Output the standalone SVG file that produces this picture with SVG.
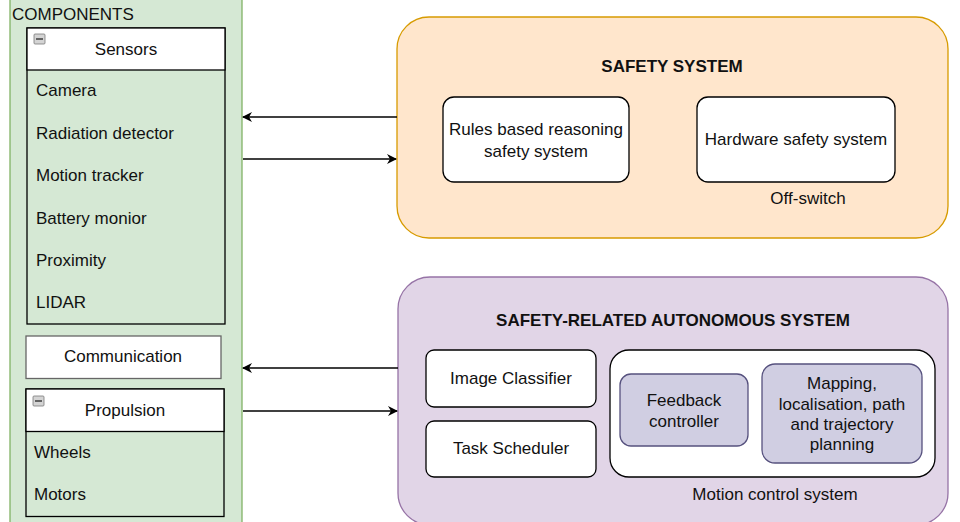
<svg xmlns="http://www.w3.org/2000/svg" width="960" height="522" viewBox="0 0 960 522">
<defs>
<style>
text{font-family:"Liberation Sans",Arial,Helvetica,sans-serif;font-size:17px;fill:#111}
.c{text-anchor:middle}
.b{font-weight:bold}
.box{fill:#fff;stroke:#000;stroke-width:1.3}
.lst{fill:#d5e8d4;stroke:#000;stroke-width:1.3}
.pur{fill:#d0cee2;stroke:#56517e;stroke-width:1.3}
.ln{fill:none;stroke:#000;stroke-width:1.4}
.ico{fill:#d4d4d4;stroke:#7a7a7a;stroke-width:0.8}
</style>
<marker id="ah" viewBox="0 0 10 10" refX="9" refY="5" markerWidth="10" markerHeight="10" markerUnits="userSpaceOnUse" orient="auto">
<path d="M0,0 L10,5 L0,10 L3,5 Z" fill="#000"/>
</marker>
</defs>

<g id="components">
<rect x="10" y="-10" width="232" height="545" fill="#d5e8d4" stroke="#82b366" stroke-width="1.3"/>
<text x="12" y="20">COMPONENTS</text>
</g>

<g id="sensors">
<rect class="lst" x="27" y="28" width="198" height="296"/>
<rect x="27" y="28" width="198" height="42" fill="#fff" stroke="#000" stroke-width="1.3"/>
<rect class="ico" x="34" y="34" width="11" height="10" rx="1"/>
<line x1="36" y1="39" x2="43" y2="39" stroke="#333" stroke-width="1.4"/>
<text class="c" x="126" y="55">Sensors</text>
<text x="36" y="96">Camera</text>
<text x="36" y="139">Radiation detector</text>
<text x="36" y="181">Motion tracker</text>
<text x="36" y="224">Battery monior</text>
<text x="36" y="266">Proximity</text>
<text x="36" y="308">LIDAR</text>
</g>

<g id="communication">
<rect x="26" y="336" width="195" height="42.5" fill="#fff" stroke="#666" stroke-width="1.3"/>
<text class="c" x="123" y="362">Communication</text>
</g>

<g id="propulsion">
<rect class="lst" x="26" y="389" width="198" height="127.5"/>
<rect x="26" y="389" width="198" height="42.5" fill="#fff" stroke="#000" stroke-width="1.3"/>
<rect class="ico" x="33" y="396" width="11" height="10" rx="1"/>
<line x1="35" y1="401" x2="42" y2="401" stroke="#333" stroke-width="1.4"/>
<text class="c" x="125" y="416">Propulsion</text>
<text x="34" y="458">Wheels</text>
<text x="34" y="500">Motors</text>
</g>

<g id="safety-system">
<rect x="397" y="17" width="551" height="221" rx="32" fill="#ffe6cc" stroke="#d79b00" stroke-width="1.3"/>
<text class="c b" x="672" y="72">SAFETY SYSTEM</text>
</g>

<g id="rules-based">
<rect class="box" x="443" y="97" width="186" height="85" rx="11"/>
<text class="c" x="536" y="135">Rules based reasoning</text>
<text class="c" x="536" y="157">safety system</text>
</g>

<g id="hardware-safety">
<rect class="box" x="697" y="97" width="198" height="85" rx="11"/>
<text class="c" x="796" y="145">Hardware safety system</text>
<text class="c" x="808" y="204">Off-switch</text>
</g>

<g id="autonomous-system">
<rect x="398" y="277" width="550" height="248" rx="32" fill="#e1d5e7" stroke="#9673a6" stroke-width="1.3"/>
<text class="c b" x="673" y="326">SAFETY-RELATED AUTONOMOUS SYSTEM</text>
</g>

<g id="image-classifier">
<rect class="box" x="426" y="350" width="170" height="57" rx="8"/>
<text class="c" x="511" y="384">Image Classifier</text>
</g>

<g id="task-scheduler">
<rect class="box" x="426" y="421" width="170" height="56" rx="8"/>
<text class="c" x="511" y="454">Task Scheduler</text>
</g>

<g id="motion-control">
<rect class="box" x="610" y="350" width="325" height="127" rx="19"/>
<text class="c" x="775" y="500">Motion control system</text>
</g>

<g id="feedback-controller">
<rect class="pur" x="620" y="374" width="128" height="72" rx="11"/>
<text class="c" x="684" y="406">Feedback</text>
<text class="c" x="684" y="427">controller</text>
</g>

<g id="mapping">
<rect class="pur" x="762" y="364" width="160" height="99" rx="13"/>
<text class="c" x="842" y="389">Mapping,</text>
<text class="c" x="842" y="410">localisation, path</text>
<text class="c" x="842" y="430">and trajectory</text>
<text class="c" x="842" y="450">planning</text>
</g>

<g id="connectors">
<line class="ln" x1="397" y1="117" x2="243" y2="117" marker-end="url(#ah)"/>
<line class="ln" x1="243" y1="159" x2="396" y2="159" marker-end="url(#ah)"/>
<line class="ln" x1="398" y1="368" x2="243" y2="368" marker-end="url(#ah)"/>
<line class="ln" x1="243" y1="411" x2="397" y2="411" marker-end="url(#ah)"/>
</g>
</svg>
